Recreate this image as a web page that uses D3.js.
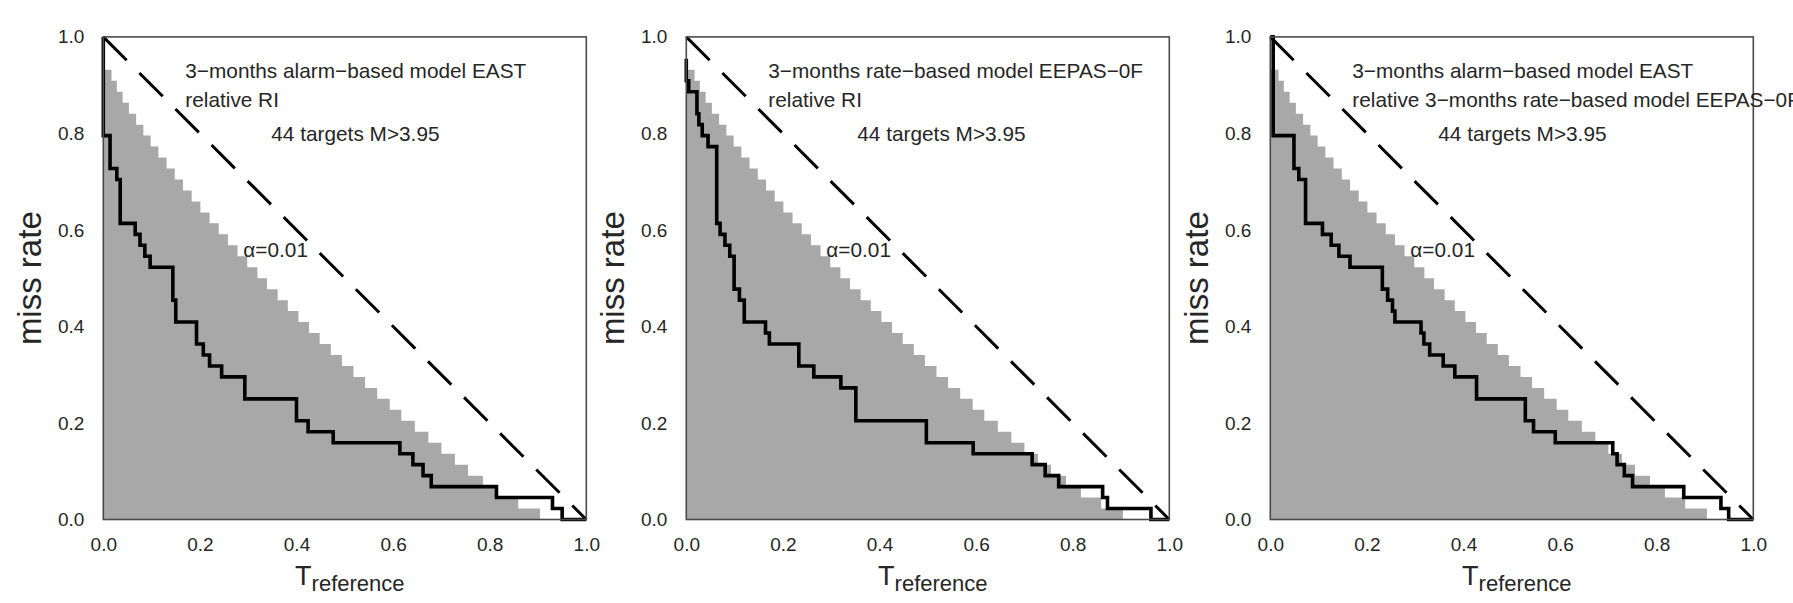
<!DOCTYPE html>
<html>
<head>
<meta charset="utf-8">
<script src="https://cdn.jsdelivr.net/npm/d3@7"></script>
<style>
  html, body { margin: 0; padding: 0; background: #fff; }
  svg { display: block; font-family: "Liberation Sans", Arial, Helvetica, sans-serif; }
</style>
</head>
<body>
<svg id="chart" width="1793" height="603"></svg>
<script>
// ---- data ---------------------------------------------------------------
const TARGETS = 44;
const xTicks = [0, 0.2, 0.4, 0.6, 0.8, 1.0];
const yTicks = [0, 0.2, 0.4, 0.6, 0.8, 1.0];

// alpha = 0.01 staircase: the highest column holds 41 misses, each following
// column one miss fewer; values are the right edges (T) of the columns.
const alphaTopMisses = 41;
const alphaEdges = [0.017, 0.028, 0.040, 0.053, 0.068, 0.083, 0.098, 0.114, 0.131, 0.148,
                    0.165, 0.183, 0.201, 0.220, 0.239, 0.258, 0.278, 0.298, 0.319, 0.339,
                    0.361, 0.382, 0.404, 0.426, 0.448, 0.471, 0.494, 0.518, 0.542, 0.567,
                    0.593, 0.617, 0.645, 0.673, 0.700, 0.728, 0.755, 0.786, 0.817, 0.859,
                    0.904];

// Molchan trajectories: step vertices (T_reference, number of missed targets)
const eastRiT    = [0, 0, 0.014, 0.028, 0.035, 0.066, 0.076, 0.086, 0.097, 0.144, 0.150, 0.193, 0.207,
                    0.220, 0.245, 0.293, 0.400, 0.424, 0.476, 0.614, 0.641, 0.662, 0.679, 0.814, 0.930,
                    0.950, 1.0];
const eastRiMiss = [44, 35, 32, 31, 27, 26, 25, 24, 23, 20, 18, 16, 15,
                    14, 13, 11, 9, 8, 7, 6, 5, 4, 3, 2, 1,
                    0, 0];

const eepasRiT    = [0, 0, 0.005, 0.022, 0.026, 0.033, 0.045, 0.063, 0.070, 0.080, 0.090, 0.099, 0.110,
                     0.120, 0.164, 0.172, 0.233, 0.264, 0.320, 0.351, 0.497, 0.594, 0.716, 0.743, 0.771,
                     0.862, 0.872, 0.962, 1.0];
const eepasRiMiss = [42, 40, 39, 37, 36, 35, 34, 27, 26, 25, 24, 21, 20,
                     18, 17, 16, 14, 13, 12, 9, 7, 6, 5, 4, 3,
                     2, 1, 0, 0];

const eastEepasT    = [0, 0.006, 0.049, 0.059, 0.073, 0.108, 0.126, 0.142, 0.165, 0.232, 0.243, 0.253,
                       0.258, 0.312, 0.318, 0.330, 0.358, 0.382, 0.427, 0.528, 0.545, 0.590, 0.709,
                       0.718, 0.733, 0.750, 0.856, 0.933, 0.949, 1.0];
const eastEepasMiss = [44, 35, 32, 31, 27, 26, 25, 24, 23, 21, 20, 19,
                       18, 17, 16, 15, 14, 13, 11, 9, 8, 7, 6,
                       5, 4, 3, 2, 1, 0, 0];

const titleLines = [
  ["3\u2212months alarm\u2212based model EAST", "relative RI"],
  ["3\u2212months rate\u2212based model EEPAS\u22120F", "relative RI"],
  ["3\u2212months alarm\u2212based model EAST", "relative 3\u2212months rate\u2212based model EEPAS\u22120F"]
];
const targetNote = "44 targets M>3.95";
const alphaNote = "\u03b1=0.01";
const yTitle = "miss rate";
const xTitleMain = "T";
const xTitleSub = "reference";

// ---- layout -------------------------------------------------------------
const panels = [
  { left: 103.3, T: eastRiT,    miss: eastRiMiss,    title: titleLines[0], noteDx: 168 },
  { left: 686.3, T: eepasRiT,   miss: eepasRiMiss,   title: titleLines[1], noteDx: 171 },
  { left: 1270.3, T: eastEepasT, miss: eastEepasMiss, title: titleLines[2], noteDx: 168 }
];
const plotTop = 36.9, plotW = 483, plotH = 482.6;
const ink = "#262626";
const noteSize = 20.8;

const svg = d3.select("#chart");
const fmt = d3.format(".1f");

panels.forEach(p => {
  const g = svg.append("g").attr("transform", `translate(${p.left},${plotTop})`);
  const x = d3.scaleLinear().domain([0, 1]).range([0, plotW]);
  const y = d3.scaleLinear().domain([0, 1]).range([plotH, 0]);

  // significance region
  const alphaPts = [[0, alphaTopMisses / TARGETS]];
  alphaEdges.forEach((e, i) => alphaPts.push([e, (alphaTopMisses - 1 - i) / TARGETS]));
  g.append("path")
    .datum(alphaPts)
    .attr("fill", "#a8a8a8")
    .attr("d", d3.area().curve(d3.curveStepAfter)
      .x(d => x(d[0])).y0(y(0)).y1(d => y(d[1])));

  // random-guess diagonal
  g.append("path")
    .datum([[0, 1], [1, 0]])
    .attr("fill", "none")
    .attr("stroke", "#000")
    .attr("stroke-width", 3)
    .attr("stroke-dasharray", "33,18")
    .attr("d", d3.line().x(d => x(d[0])).y(d => y(d[1])));

  // Molchan trajectory
  const pts = p.T.map((t, i) => [t, p.miss[i] / TARGETS]);
  g.append("path")
    .datum(pts)
    .attr("fill", "none")
    .attr("stroke", "#000")
    .attr("stroke-width", 3.6)
    .attr("stroke-linejoin", "miter")
    .attr("d", d3.line().curve(d3.curveStepAfter).x(d => x(d[0])).y(d => y(d[1])));

  // frame
  g.append("rect")
    .attr("x", 0).attr("y", 0).attr("width", plotW).attr("height", plotH)
    .attr("fill", "none").attr("stroke", "#4a4a4a").attr("stroke-width", 1.6);

  // axes (labels only, no tick marks)
  const xAxis = g.append("g").attr("transform", `translate(0,${plotH})`)
    .call(d3.axisBottom(x).tickValues(xTicks).tickFormat(fmt).tickSize(0).tickPadding(0));
  xAxis.select(".domain").remove();
  xAxis.selectAll("text")
    .attr("y", 31.5).attr("dy", null)
    .attr("fill", ink).attr("font-size", 19)
    .attr("font-family", "Liberation Sans, Arial, sans-serif");

  const yAxis = g.append("g")
    .call(d3.axisLeft(y).tickValues(yTicks).tickFormat(fmt).tickSize(0).tickPadding(19));
  yAxis.select(".domain").remove();
  yAxis.selectAll("text")
    .attr("fill", ink).attr("font-size", 19)
    .attr("font-family", "Liberation Sans, Arial, sans-serif");

  // annotations
  g.append("text").attr("x", 82).attr("y", 78 - plotTop)
    .attr("font-size", noteSize).attr("fill", ink).text(p.title[0]);
  g.append("text").attr("x", 82).attr("y", 107.5 - plotTop)
    .attr("font-size", noteSize).attr("fill", ink).text(p.title[1]);
  g.append("text").attr("x", p.noteDx).attr("y", 141 - plotTop)
    .attr("font-size", noteSize).attr("fill", ink).text(targetNote);
  g.append("text").attr("x", 140).attr("y", 257.5 - plotTop)
    .attr("font-size", noteSize).attr("fill", ink).text(alphaNote);

  // axis titles
  g.append("text")
    .attr("transform", `translate(-62,${plotH / 2}) rotate(-90)`)
    .attr("text-anchor", "middle")
    .attr("font-size", 33).attr("fill", ink)
    .text(yTitle);

  const xt = g.append("text")
    .attr("x", plotW / 2 + 5).attr("y", 585 - plotTop)
    .attr("text-anchor", "middle").attr("fill", ink);
  xt.append("tspan").attr("font-size", 27).text(xTitleMain);
  xt.append("tspan").attr("font-size", 22).attr("dy", 6.5).text(xTitleSub);
});
</script>
</body>
</html>
